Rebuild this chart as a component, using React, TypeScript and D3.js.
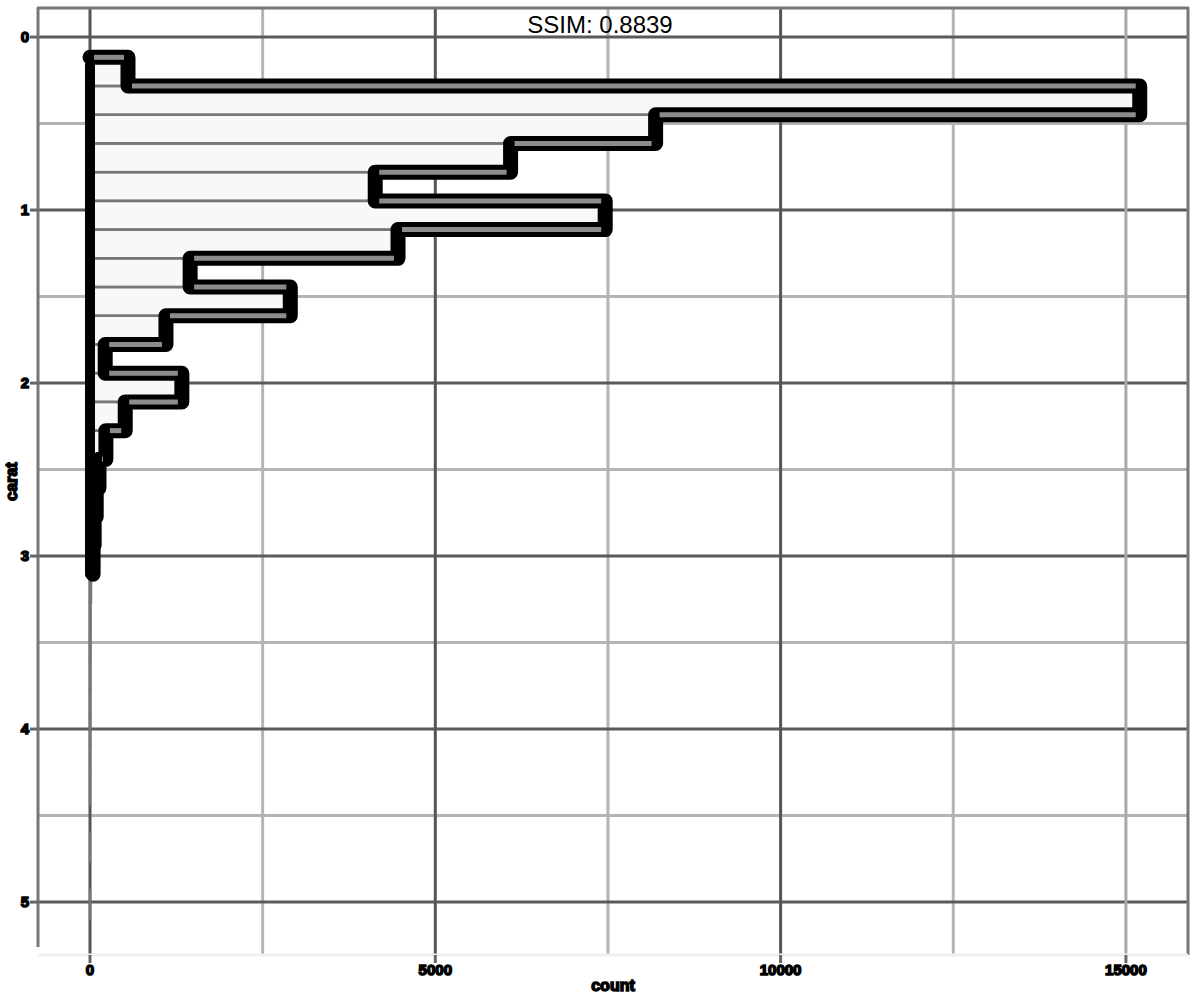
import { useEffect, useRef } from 'react';
import * as d3 from 'd3';

// histogram bin edges (carat) and counts
const binEdges = [0.117, 0.283, 0.449, 0.615, 0.781, 0.947, 1.113, 1.279, 1.445, 1.611, 1.777, 1.943, 2.109, 2.275, 2.441, 2.607, 2.773, 2.939, 3.105, 3.271, 3.437, 3.603, 3.769, 3.935, 4.101, 4.267, 4.433, 4.599, 4.765, 4.931, 5.097];
const counts = [550, 15200, 8190, 6090, 4130, 7460, 4460, 1450, 2900, 1100, 220, 1330, 510, 230, 130, 90, 60, 45, 14, 8, 6, 4, 3, 2, 1, 1, 0, 1, 0, 1];

const xMajor = [0, 5000, 10000, 15000];
const xMinor = [2500, 7500, 12500];
const yMajor = [0, 1, 2, 3, 4, 5];
const yMinor = [0.5, 1.5, 2.5, 3.5, 4.5];

const xTitle = 'count';
const yTitle = 'carat';
const caption = 'SSIM: 0.8839';

// number of leading bins that get the heavy outline
const outlinedBins = 18;

export default function App() {
  const svgRef = useRef<SVGSVGElement | null>(null);

  useEffect(() => {
    if (!svgRef.current) return;
    const svg = d3.select(svgRef.current);
    svg.selectAll('*').remove();

    const left = 38, right = 1188, top = 8, bottom = 955;
    const font = 'Liberation Sans, Arial, sans-serif';

    const x = d3.scaleLinear().domain([-753, 15899]).range([left, right]);
    const y = d3.scaleLinear().domain([-0.168, 5.306]).range([top, bottom]);

    // grid
    const grid = svg.append('g');
    grid.selectAll('line.ymin')
      .data(yMinor)
      .join('line')
      .attr('x1', left).attr('x2', right)
      .attr('y1', d => y(d)).attr('y2', d => y(d))
      .attr('stroke', '#b4b4b4').attr('stroke-width', 3);
    grid.selectAll('line.xmin')
      .data(xMinor)
      .join('line')
      .attr('x1', d => x(d)).attr('x2', d => x(d))
      .attr('y1', top).attr('y2', bottom)
      .attr('stroke', '#b4b4b4').attr('stroke-width', 3);
    grid.selectAll('line.ymaj')
      .data(yMajor)
      .join('line')
      .attr('x1', left).attr('x2', right)
      .attr('y1', d => y(d)).attr('y2', d => y(d))
      .attr('stroke', '#5a5a5a').attr('stroke-width', 3);
    grid.selectAll('line.xmaj')
      .data(xMajor)
      .join('line')
      .attr('x1', d => x(d)).attr('x2', d => x(d))
      .attr('y1', top).attr('y2', bottom)
      .attr('stroke', (d, i) => (i === 3 ? '#a8a8a8' : '#555'))
      .attr('stroke-width', 3);

    // panel border (left / top / right)
    svg.append('path')
      .attr('d', `M${left},${bottom - 8}V${top}H${right}V${bottom}`)
      .attr('fill', 'none')
      .attr('stroke', '#777')
      .attr('stroke-width', 3)
      .attr('stroke-linejoin', 'round');
    svg.append('line')
      .attr('x1', left).attr('x2', right)
      .attr('y1', bottom).attr('y2', bottom)
      .attr('stroke', '#f0f0f0').attr('stroke-width', 3);

    // step outline points
    const pts: [number, number][] = [[x(0), y(binEdges[0])]];
    for (let i = 0; i < outlinedBins; i++) {
      pts.push([x(counts[i]), y(binEdges[i])]);
      pts.push([x(counts[i]), y(binEdges[i + 1])]);
    }
    pts.push([x(0), y(binEdges[outlinedBins])]);
    const line = d3.line();

    // filled area
    svg.append('path')
      .attr('d', (line(pts) || '') + 'Z')
      .attr('fill', '#f8f8f8');

    // bar outlines
    const bins = counts.map((c, i) => ({ c, y0: binEdges[i], y1: binEdges[i + 1] }));
    svg.append('g').selectAll('rect')
      .data(bins)
      .join('rect')
      .attr('x', x(0))
      .attr('width', d => x(d.c) - x(0))
      .attr('y', d => y(d.y0))
      .attr('height', d => y(d.y1) - y(d.y0))
      .attr('fill', 'none')
      .attr('stroke', '#777')
      .attr('stroke-width', 2.5);

    // heavy step outline
    const stepPts = pts.slice(0, pts.length - 1);
    svg.append('path')
      .attr('d', line(stepPts) || '')
      .attr('fill', 'none')
      .attr('stroke', '#000')
      .attr('stroke-width', 15)
      .attr('stroke-linejoin', 'round')
      .attr('stroke-linecap', 'round');

    // gray core on the horizontal runs only
    const runs = stepPts.slice(0, stepPts.length - 1)
      .map((p, i) => [p, stepPts[i + 1]] as [[number, number], [number, number]])
      .filter(([a, b]) => a[1] === b[1] && Math.abs(a[0] - b[0]) > 6);
    svg.append('g').selectAll('line')
      .data(runs)
      .join('line')
      .attr('x1', d => Math.min(d[0][0], d[1][0]) + 4)
      .attr('x2', d => Math.max(d[0][0], d[1][0]) - 4)
      .attr('y1', d => d[0][1]).attr('y2', d => d[0][1])
      .attr('stroke', '#8c8c8c')
      .attr('stroke-width', 5);

    // left edge of the bars
    svg.append('line')
      .attr('x1', x(0)).attr('x2', x(0))
      .attr('y1', y(binEdges[0]) + 8)
      .attr('y2', y(binEdges[outlinedBins]))
      .attr('stroke', '#000')
      .attr('stroke-width', 10)
      .attr('stroke-linecap', 'round');

    // axis ticks
    svg.append('g').selectAll('line')
      .data(xMajor)
      .join('line')
      .attr('x1', d => x(d)).attr('x2', d => x(d))
      .attr('y1', bottom).attr('y2', bottom + 8)
      .attr('stroke', '#666').attr('stroke-width', 3);
    svg.append('g').selectAll('line')
      .data(yMajor)
      .join('line')
      .attr('x1', left - 8).attr('x2', left)
      .attr('y1', d => y(d)).attr('y2', d => y(d))
      .attr('stroke', '#666').attr('stroke-width', 3);

    // tick labels
    svg.append('g').selectAll('text')
      .data(xMajor)
      .join('text')
      .attr('x', d => x(d))
      .attr('y', bottom + 20)
      .attr('text-anchor', 'middle')
      .attr('font-family', font)
      .attr('font-size', 15)
      .attr('font-weight', 'bold')
      .attr('fill', '#000')
      .attr('stroke', '#000')
      .attr('stroke-width', 1.5)
      .text(d => String(d));
    svg.append('g').selectAll('text')
      .data(yMajor)
      .join('text')
      .attr('x', 25)
      .attr('y', d => y(d) + 5)
      .attr('text-anchor', 'middle')
      .attr('font-family', font)
      .attr('font-size', 15)
      .attr('font-weight', 'bold')
      .attr('fill', '#000')
      .attr('stroke', '#000')
      .attr('stroke-width', 1.5)
      .text(d => String(d));

    // axis titles
    svg.append('text')
      .attr('x', (left + right) / 2)
      .attr('y', 991)
      .attr('text-anchor', 'middle')
      .attr('font-family', font)
      .attr('font-size', 16)
      .attr('font-weight', 'bold')
      .attr('fill', '#000')
      .attr('stroke', '#000')
      .attr('stroke-width', 1.5)
      .text(xTitle);
    svg.append('text')
      .attr('transform', `translate(17,${(top + bottom) / 2}) rotate(-90)`)
      .attr('text-anchor', 'middle')
      .attr('font-family', font)
      .attr('font-size', 16)
      .attr('font-weight', 'bold')
      .attr('fill', '#000')
      .attr('stroke', '#000')
      .attr('stroke-width', 1.5)
      .text(yTitle);

    // caption
    svg.append('text')
      .attr('x', 600)
      .attr('y', 33)
      .attr('text-anchor', 'middle')
      .attr('font-family', 'Liberation Sans Narrow, Liberation Sans, Arial, sans-serif')
      .attr('font-size', 24)
      .attr('fill', '#000')
      .text(caption);
  }, []);

  return (
    <div style={{ position: 'absolute', left: 0, top: 0 }}>
      <svg ref={svgRef} width={1200} height={1000} style={{ display: 'block', background: '#fff' }}></svg>
    </div>
  );
}
